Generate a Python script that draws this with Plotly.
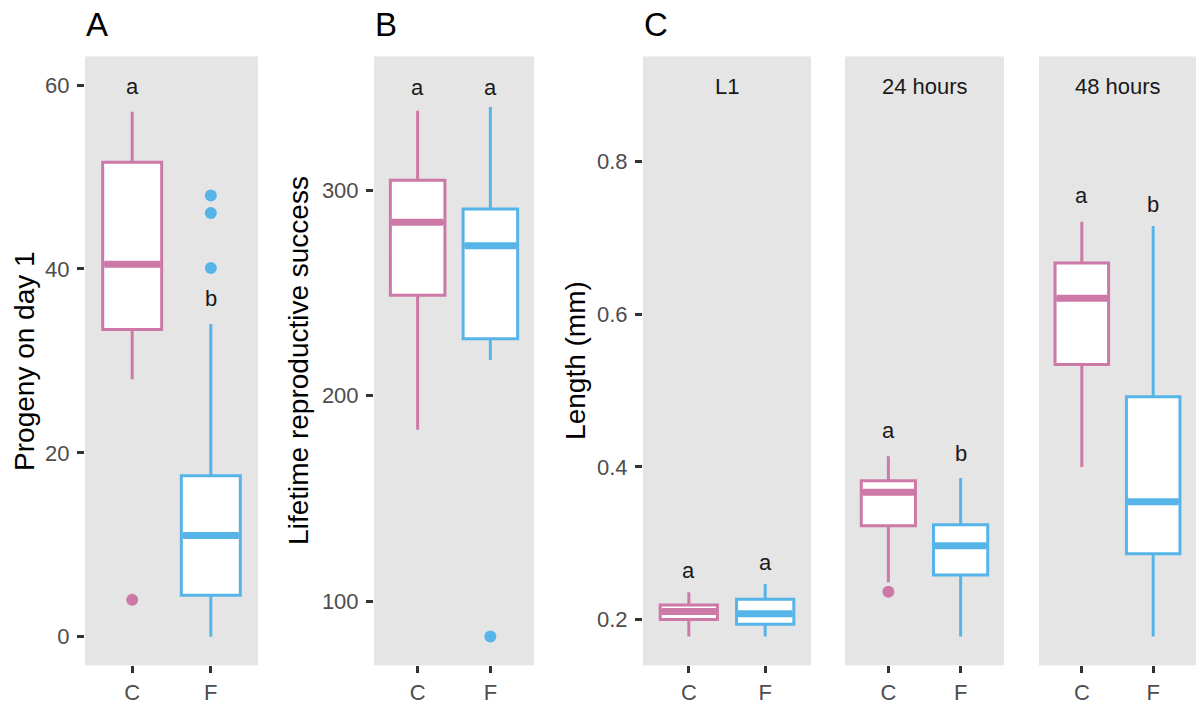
import plotly.graph_objects as go

W, H = 1196, 705
PINK = "#CC79A7"
BLUE = "#56B4E9"
COLORS = [PINK, BLUE]
FONT = "Liberation Sans, Arial, sans-serif"

groups = ["C", "F"]
positions = [1, 2]

# Panel A: Progeny on day 1
A_q1 = [33.4, 4.5]
A_med = [40.5, 11.0]
A_q3 = [51.6, 17.5]
A_lo = [28.0, 0.0]
A_hi = [57.1, 34.0]
A_out = [[4.0], [48.0, 46.1, 40.1]]
A_letters = ["a", "b"]
A_letter_y = [59.8, 36.8]
A_ticks = [0, 20, 40, 60]

# Panel B: Lifetime reproductive success
B_q1 = [248.9, 227.7]
B_med = [284.4, 273.0]
B_q3 = [304.8, 290.8]
B_lo = [183.4, 217.3]
B_hi = [338.6, 340.5]
B_out = [[], [82.7]]
B_letters = ["a", "a"]
B_letter_y = [350.1, 350.1]
B_ticks = [100, 200, 300]

# Panel C: Length (mm), facets
C_facets = ["L1", "24 hours", "48 hours"]
C_q1 = [[0.2005, 0.194], [0.323, 0.2587], [0.534, 0.2864]]
C_med = [[0.211, 0.208], [0.367, 0.297], [0.6208, 0.3546]]
C_q3 = [[0.2195, 0.227], [0.382, 0.3244], [0.667, 0.492]]
C_lo = [[0.178, 0.178], [0.249, 0.178], [0.400, 0.178]]
C_hi = [[0.236, 0.247], [0.414, 0.3857], [0.721, 0.7154]]
C_out = [[[], []], [[0.2367], []], [[], []]]
C_letters = [["a", "a"], ["a", "b"], ["a", "b"]]
C_letter_y = [[0.264, 0.275], [0.4475, 0.4177], [0.756, 0.744]]
C_ticks = [0.2, 0.4, 0.6, 0.8]
C_ticktext = ["0.2", "0.4", "0.6", "0.8"]


def px(x):
    return x / W


def py(y):
    return 1 - y / H


fig = go.Figure()
BOXW = 0.75


def add_panel(idx, q1, med, q3, lo, hi, outs, letters, letter_y):
    xa = "x" if idx == 1 else f"x{idx}"
    ya = "y" if idx == 1 else f"y{idx}"
    for i in range(2):
        c = COLORS[i]
        p = positions[i]
        fig.add_trace(go.Box(
            x=[p], q1=[q1[i]], median=[med[i]], q3=[q3[i]],
            lowerfence=[lo[i]], upperfence=[hi[i]],
            width=BOXW, whiskerwidth=0, fillcolor="white",
            line=dict(color=c, width=3), boxpoints=False,
            xaxis=xa, yaxis=ya, showlegend=False, hoverinfo="skip"))
        fig.add_trace(go.Scatter(
            x=[p - BOXW / 2 + 0.02, p + BOXW / 2 - 0.02], y=[med[i], med[i]],
            mode="lines", line=dict(color=c, width=7),
            xaxis=xa, yaxis=ya, showlegend=False, hoverinfo="skip"))
        if outs[i]:
            fig.add_trace(go.Scatter(
                x=[p] * len(outs[i]), y=outs[i], mode="markers",
                marker=dict(color=c, size=12),
                xaxis=xa, yaxis=ya, showlegend=False, hoverinfo="skip"))
        fig.add_annotation(x=p, y=letter_y[i], xref=xa, yref=ya, text=letters[i],
                           showarrow=False, font=dict(family=FONT, size=22, color="#1A1A1A"),
                           xanchor="center", yanchor="middle")


add_panel(1, A_q1, A_med, A_q3, A_lo, A_hi, A_out, A_letters, A_letter_y)
add_panel(2, B_q1, B_med, B_q3, B_lo, B_hi, B_out, B_letters, B_letter_y)
for k in range(3):
    add_panel(3 + k, C_q1[k], C_med[k], C_q3[k], C_lo[k], C_hi[k], C_out[k],
              C_letters[k], C_letter_y[k])

ydom = [py(672), py(57)]
xdoms = [(85, 258), (374, 534), (643, 811), (845, 1004), (1039, 1196)]
yranges = [[-3.12, 63.12], [68.7, 365.1], [0.1404, 0.9374], [0.1404, 0.9374], [0.1404, 0.9374]]
yticks = [(A_ticks, [str(t) for t in A_ticks]), (B_ticks, [str(t) for t in B_ticks]),
          (C_ticks, C_ticktext), None, None]

layout = {}
tickfont = dict(family=FONT, size=22, color="#4D4D4D")
for i in range(5):
    n = "" if i == 0 else str(i + 1)
    layout[f"xaxis{n}"] = dict(
        domain=[max(0, px(xdoms[i][0])), min(1, px(xdoms[i][1]))], range=[0.4, 2.6],
        tickvals=positions, ticktext=groups, ticks="outside", ticklen=7,
        tickwidth=2.5, tickcolor="#333333", tickfont=tickfont,
        showgrid=False, zeroline=False, showline=False,
        anchor="y" if i == 0 else f"y{i + 1}", fixedrange=True)
    ya = dict(domain=ydom, range=yranges[i], showgrid=False, zeroline=False,
              showline=False, anchor="x" if i == 0 else f"x{i + 1}", fixedrange=True)
    if yticks[i] is not None:
        ya.update(tickvals=yticks[i][0], ticktext=yticks[i][1], ticks="outside",
                  ticklen=7, tickwidth=2.5, tickcolor="#333333", tickfont=tickfont,
                  ticklabelstandoff=3)
    else:
        ya.update(showticklabels=False, ticks="")
    layout[f"yaxis{n}"] = ya

fig.update_layout(**layout)

# Facet strip labels
strip_centers = [(643 + 811) / 2, (845 + 1004) / 2, (1039 + 1196) / 2]
for k in range(3):
    fig.add_annotation(x=px(strip_centers[k]), y=py(87.5), xref="paper", yref="paper",
                       text=C_facets[k], showarrow=False,
                       font=dict(family=FONT, size=22, color="#1A1A1A"),
                       xanchor="center", yanchor="middle")

# Axis titles
titles = [("Progeny on day 1", 25), ("Lifetime reproductive success", 299), ("Length (mm)", 576)]
for t, xc in titles:
    fig.add_annotation(x=px(xc), y=py(364.5), xref="paper", yref="paper", text=t,
                       textangle=-90, showarrow=False,
                       font=dict(family=FONT, size=28, color="#000000"),
                       xanchor="center", yanchor="middle")

# Panel tags
for t, xc in [("A", 97), ("B", 386), ("C", 656)]:
    fig.add_annotation(x=px(xc), y=py(25), xref="paper", yref="paper", text=t,
                       showarrow=False, font=dict(family=FONT, size=33, color="#000000"),
                       xanchor="center", yanchor="middle")

fig.update_layout(width=W, height=H, margin=dict(l=0, r=0, t=0, b=0),
                  paper_bgcolor="white", plot_bgcolor="#E5E5E5", showlegend=False)

fig.write_html("out.html", config={"displayModeBar": False},
               post_script="document.body.style.margin='0px';document.body.style.overflow='hidden';")
